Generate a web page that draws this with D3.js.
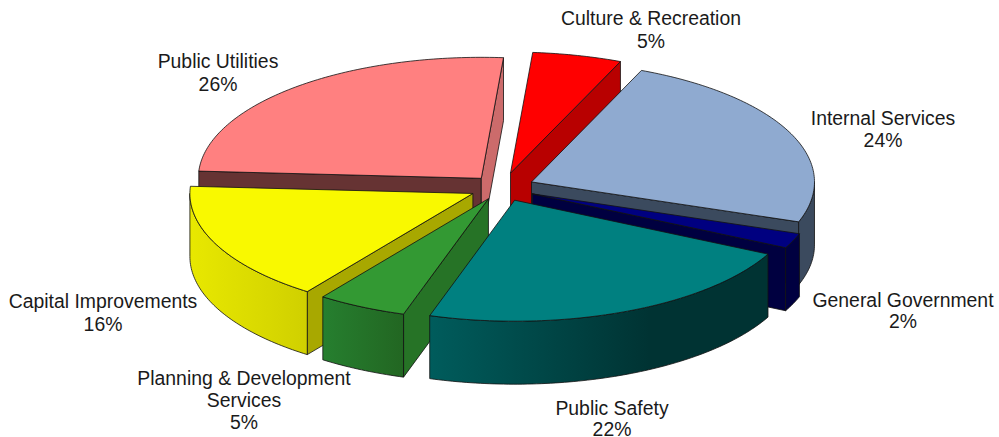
<!DOCTYPE html>
<html>
<head>
<meta charset="utf-8">
<script src="https://cdn.jsdelivr.net/npm/d3@7"></script>
<style>
  html, body { margin: 0; padding: 0; background: #fff; }
  text { font-family: "Liberation Sans", Arial, sans-serif; font-size: 19.4px; fill: #1a1a1a; }
</style>
</head>
<body>
<svg id="chart" width="999" height="437"></svg>
<script>
// values, clockwise starting at Culture & Recreation
let categories = ["Culture & Recreation", "Internal Services", "General Government", "Public Safety",
    "Planning & Development Services", "Capital Improvements", "Public Utilities"];
// slice sizes (angles), the printed labels are rounded
let shares = [5.1, 24, 2, 22.5, 5.1, 16, 25.3];
let percentLabels = ["5%", "24%", "2%", "22%", "5%", "16%", "26%"];

// styling per slice
let topColors  = ["#ff0000", "#8faad0", "#000080", "#008080", "#339933", "#f9f900", "#ff8080"];
let cutColors  = ["#b80000", "#3b4a5e", "#000040", "#003333", "#267326", "#a8a800", "#663333"];
let cutColors2 = ["#b80000", "#3b4a5e", "#000040", "#003333", "#267326", "#a8a800", "#cc6b6b"];
let wallFrom   = ["#b80000", "#3b4a5e", "#000040", "#005c5c", "#267f2f", "#e8e800", "#663333"];
let wallTo     = ["#b80000", "#3b4a5e", "#000040", "#003333", "#226622", "#d0d000", "#663333"];
let explode    = [36, 35, 35, 31, 28, 30, 30];
let nudgeX     = [2, -0.5, 0, 2.5, 1, 0, 1];
let drawOrder  = [6, 0, 1, 2, 5, 4, 3];

// label lines centre x, first line y, line gap
let labelX = [651, 883, 903, 612, 244, 103, 218];
let labelY = [25, 125, 307, 415, 384.5, 308, 68];
let labelGap = [23, 22, 21, 21, 22, 23, 23];
let labelLines = [["Culture & Recreation"], ["Internal Services"], ["General Government"], ["Public Safety"],
    ["Planning & Development", "Services"], ["Capital Improvements"], ["Public Utilities"]];

let cx = 500, cy = 188, rx = 283, ry = 121, depth = 63;
let START = 4.5 * Math.PI / 180;

var x = d3.scaleLinear().domain([-1, 1]).range([cx - rx, cx + rx]);
var y = d3.scaleLinear().domain([-1, 1]).range([cy - ry, cy + ry]);
var line = d3.line();

let svg = d3.select("#chart");
let defs = svg.append("defs");

let pie = d3.pie().sort(null).startAngle(START).endAngle(START + 2 * Math.PI);
let arcs = pie(shares);

// point on the slice's rim, h = 0 top surface, h = depth bottom
function pt(d, i, a, r, h) {
    let e = explode[i] / rx;
    let mid = (d.startAngle + d.endAngle) / 2;
    let ux = e * Math.sin(mid) + r * Math.sin(a);
    let uy = -e * Math.cos(mid) - r * Math.cos(a);
    return [x(ux) + nudgeX[i], y(uy) + h];
}

function rim(d, i, a0, a1, h) {
    let n = Math.max(2, Math.ceil((a1 - a0) * 60));
    return d3.range(n + 1).map(k => pt(d, i, a0 + (a1 - a0) * k / n, 1, h));
}

function drawSlice(i) {
    let d = arcs[i];
    let a0 = d.startAngle, a1 = d.endAngle;
    let g = svg.append("g").attr("class", "slice");
    let apex = pt(d, i, a0, 0, 0);
    let apexLow = pt(d, i, a0, 0, depth);

    // cut faces, only those turned towards the viewer
    if (Math.sin(a0) < 0) {
        let p = pt(d, i, a0, 1, 0), q = pt(d, i, a0, 1, depth);
        g.append("path").attr("d", line([apex, p, q, apexLow]) + "Z")
            .attr("fill", cutColors[i]).attr("stroke", "#111").attr("stroke-width", 0.8);
    }
    if (Math.sin(a1) > 0) {
        let p = pt(d, i, a1, 1, 0), q = pt(d, i, a1, 1, depth);
        g.append("path").attr("d", line([apex, p, q, apexLow]) + "Z")
            .attr("fill", cutColors2[i]).attr("stroke", "#111").attr("stroke-width", 0.8);
    }

    // outer wall, front half only (90deg to 270deg, also past a full turn)
    let w0 = Math.max(a0, Math.PI / 2), w1 = Math.min(a1, Math.PI * 1.5);
    if (w1 > w0) {
        let upper = rim(d, i, w0, w1, 0);
        let lower = rim(d, i, w0, w1, depth).reverse();
        let id = "wall" + i;
        let lg = defs.append("linearGradient").attr("id", id)
            .attr("gradientUnits", "userSpaceOnUse")
            .attr("x1", d3.min(upper, p => p[0])).attr("x2", d3.max(upper, p => p[0]))
            .attr("y1", 0).attr("y2", 0);
        lg.append("stop").attr("offset", 0).attr("stop-color", wallFrom[i]);
        if (i == 3) lg.append("stop").attr("offset", 0.65).attr("stop-color", wallTo[i]);
        lg.append("stop").attr("offset", 1).attr("stop-color", wallTo[i]);
        g.append("path").attr("d", line(upper.concat(lower)) + "Z")
            .attr("fill", "url(#" + id + ")").attr("stroke", "#111").attr("stroke-width", 0.8);
    }

    // top surface
    let top = [apex].concat(rim(d, i, a0, a1, 0));
    g.append("path").attr("d", line(top) + "Z")
        .attr("fill", topColors[i]).attr("stroke", "#111").attr("stroke-width", 0.8)
        .attr("stroke-linejoin", "round");
}

drawOrder.forEach(drawSlice);

// labels
categories.forEach(function(c, i) {
    let rows = labelLines[i].concat([percentLabels[i]]);
    let t = svg.append("text").attr("text-anchor", "middle");
    rows.forEach(function(r, k) {
        t.append("tspan").attr("x", labelX[i]).attr("y", labelY[i] + k * labelGap[i]).text(r);
    });
});
</script>
</body>
</html>
